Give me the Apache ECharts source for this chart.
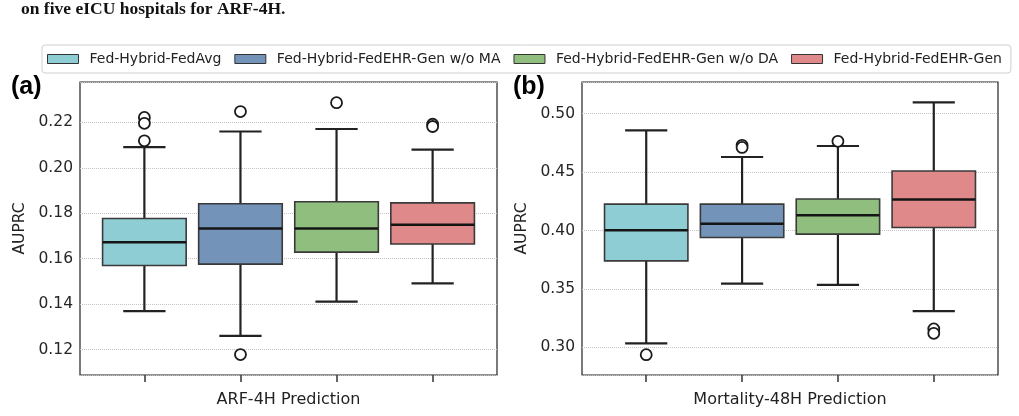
<!DOCTYPE html>
<html>
<head>
<meta charset="utf-8">
<script src="https://cdn.jsdelivr.net/npm/echarts@6/dist/echarts.min.js"></script>
<style>html,body{margin:0;padding:0;background:#fff}#c{width:1019px;height:416px}</style>
</head>
<body>
<div id="c"></div>
<script>
// ---- data ----
const methods = ['Fed-Hybrid-FedAvg', 'Fed-Hybrid-FedEHR-Gen w/o MA', 'Fed-Hybrid-FedEHR-Gen w/o DA', 'Fed-Hybrid-FedEHR-Gen'];
const colors = ['#8ECDD3', '#7393B8', '#8FBE7F', '#E0898A'];
const panelTitles = ['ARF-4H Prediction', 'Mortality-48H Prediction'];
// box stats per method: [lowerWhisker, Q1, median, Q3, upperWhisker]
const arfStats = [
  [0.1369, 0.1570, 0.1673, 0.1777, 0.2091],
  [0.1260, 0.1576, 0.1733, 0.1842, 0.2160],
  [0.1411, 0.1629, 0.1733, 0.1851, 0.2171],
  [0.1491, 0.1665, 0.1749, 0.1846, 0.2080]
];
const mortStats = [
  [0.3034, 0.3740, 0.4003, 0.4226, 0.4857],
  [0.3546, 0.3940, 0.4057, 0.4226, 0.4629],
  [0.3534, 0.3969, 0.4131, 0.4269, 0.4723],
  [0.3309, 0.4026, 0.4266, 0.4509, 0.5097]
];
// outliers: [methodIndex, value]
const arfOutliers = [[0, 0.2222], [0, 0.2196], [0, 0.2119], [1, 0.2248], [1, 0.1178], [2, 0.2287], [3, 0.2192], [3, 0.2182]];
const mortOutliers = [[0, 0.2937], [1, 0.4729], [1, 0.4711], [2, 0.4763], [3, 0.3157], [3, 0.3120]];
const arfRange = [0.1088, 0.2378];
const mortRange = [0.2763, 0.5271];

// ---- chart ----
const BOX_W = 0.87, CAP_W = 0.44;
function renderBox(params, api) {
  const x = api.value(0);
  const lo = api.coord([x, api.value(1)]);
  const q1 = api.coord([x, api.value(2)]);
  const md = api.coord([x, api.value(3)]);
  const q3 = api.coord([x, api.value(4)]);
  const hi = api.coord([x, api.value(5)]);
  const bw = api.size([BOX_W, 0])[0];
  const cw = api.size([CAP_W, 0])[0];
  const cx = lo[0];
  const wl = {stroke: '#222', lineWidth: 2.2};
  return {
    type: 'group',
    children: [
      {type: 'line', shape: {x1: cx, y1: q1[1], x2: cx, y2: lo[1]}, style: wl},
      {type: 'line', shape: {x1: cx, y1: q3[1], x2: cx, y2: hi[1]}, style: wl},
      {type: 'line', shape: {x1: cx - cw / 2, y1: lo[1], x2: cx + cw / 2, y2: lo[1]}, style: wl},
      {type: 'line', shape: {x1: cx - cw / 2, y1: hi[1], x2: cx + cw / 2, y2: hi[1]}, style: wl},
      {type: 'rect', shape: {x: cx - bw / 2, y: q3[1], width: bw, height: q1[1] - q3[1]},
        style: {fill: api.visual('color'), stroke: '#3a3a3a', lineWidth: 1.6}},
      {type: 'line', shape: {x1: cx - bw / 2, y1: md[1], x2: cx + bw / 2, y2: md[1]}, style: {stroke: '#151515', lineWidth: 2.5}}
    ]
  };
}

const stats = [arfStats, mortStats];
const outl = [arfOutliers, mortOutliers];
const ranges = [arfRange, mortRange];
const splits = [6, 5];
const series = [];
for (let p = 0; p < 2; p++) {
  methods.forEach((m, i) => {
    series.push({
      type: 'custom', name: m, xAxisIndex: p, yAxisIndex: p,
      itemStyle: {color: colors[i], borderColor: '#333', borderWidth: 1},
      renderItem: renderBox,
      encode: {x: 0, y: [1, 2, 3, 4, 5]},
      data: [[i].concat(stats[p][i])],
      z: 2
    });
  });
  series.push({
    type: 'scatter', name: 'outliers' + p, xAxisIndex: p, yAxisIndex: p,
    symbol: 'circle', symbolSize: 11,
    itemStyle: {color: '#fff', borderColor: '#1a1a1a', borderWidth: 1.8, opacity: 1},
    data: outl[p], z: 3, silent: true
  });
}

const font = 'DejaVu Sans';
const chart = echarts.init(document.getElementById('c'), null, {renderer: 'canvas'});
chart.setOption({
  animation: false,
  backgroundColor: '#fff',
  textStyle: {fontFamily: font},
  graphic: [
    {type: 'text', left: 21, top: 0, style: {text: 'on five eICU hospitals for ARF-4H.', font: 'bold 17.5px "Liberation Serif"', fill: '#111'}},
    {type: 'text', left: 11, top: 75, style: {text: '(a)', font: 'bold 25px "Liberation Sans"', fill: '#000'}},
    {type: 'text', left: 513, top: 75, style: {text: '(b)', font: 'bold 25px "Liberation Sans"', fill: '#000'}}
  ],
  legend: {
    data: methods, left: 42, top: 45, orient: 'horizontal',
    itemWidth: 31, itemHeight: 9, itemGap: 13, icon: 'rect',
    itemStyle: {borderColor: '#333', borderWidth: 1},
    padding: [6, 9, 6, 5],
    borderColor: '#d0d0d0', borderWidth: 1, borderRadius: 3,
    textStyle: {fontSize: 14, color: '#222', fontFamily: font, padding: [0, 0, 0, 6], lineHeight: 16}
  },
  grid: [
    {left: 80, top: 82, width: 417, height: 293, show: true, borderColor: '#222', borderWidth: 1.2, backgroundColor: 'transparent'},
    {left: 582, top: 82, width: 416, height: 293, show: true, borderColor: '#222', borderWidth: 1.2, backgroundColor: 'transparent'}
  ],
  xAxis: [0, 1].map(p => ({
    type: 'value', gridIndex: p, min: -0.67, max: 3.67,
    name: panelTitles[p], nameLocation: 'middle', nameGap: 17,
    nameTextStyle: {fontSize: 16, color: '#222', fontFamily: font},
    axisLine: {show: false},
    axisTick: {show: true, customValues: [0, 1, 2, 3], length: 7, lineStyle: {color: '#333', width: 1.5}},
    axisLabel: {show: false},
    splitLine: {show: false}
  })),
  yAxis: [0, 1].map(p => ({
    type: 'value', gridIndex: p, min: ranges[p][0], max: ranges[p][1], splitNumber: splits[p],
    name: 'AUPRC', nameLocation: 'middle', nameGap: 52, nameRotate: 90,
    nameTextStyle: {fontSize: 15.5, color: '#222', fontFamily: font},
    axisLine: {show: false},
    axisTick: {show: false},
    axisLabel: {fontSize: 15.5, color: '#262626', margin: 7, showMinLabel: false, showMaxLabel: false,
      formatter: v => v.toFixed(2), fontFamily: font},
    splitLine: {show: true, lineStyle: {color: '#c4c4c4', type: 'dotted', width: 1}}
  })),
  series: series
});
</script>
</body>
</html>
